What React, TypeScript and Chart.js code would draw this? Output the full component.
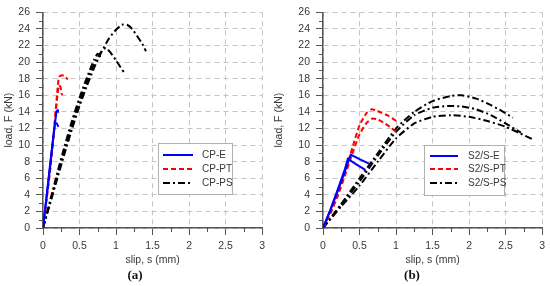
import React, { useEffect, useRef } from "react";
import { Chart, registerables } from "chart.js";
Chart.register(...registerables);

// ---------- axes ----------
const xMin = 0, xMax = 3, xStep = 0.5, xMinorStep = 0.25;
const yMin = 0, yMax = 26, yStep = 2, yMinorStep = 1;
const xTitle = "slip, s (mm)";
const yTitle = "load, F (kN)";

// ---------- panel (a) ----------
const cpE1Slip = [0, 0.05, 0.1, 0.15, 0.185, 0.2, 0.205];
const cpE1Load = [0, 3.9, 7.9, 11.6, 14.1, 14.2, 13.9];
const cpE2Slip = [0, 0.05, 0.1, 0.14, 0.165, 0.19, 0.21];
const cpE2Load = [0, 3.8, 7.6, 10.9, 12.7, 12.6, 12.2];

const cpPT1Slip = [0, 0.05, 0.1, 0.16, 0.2, 0.22, 0.26, 0.3, 0.34];
const cpPT1Load = [0, 3.6, 7.3, 12.8, 16.9, 18.2, 18.4, 18.3, 17.9];
const cpPT2Slip = [0, 0.05, 0.1, 0.16, 0.2, 0.22, 0.24, 0.26];
const cpPT2Load = [0, 3.5, 7.1, 12.5, 16.2, 17.2, 17.0, 16.0];

const cpPS1Slip = [0, 0.1, 0.2, 0.3, 0.4, 0.5, 0.6, 0.7, 0.75, 0.79];
const cpPS1Load = [0, 3.4, 6.8, 10.0, 13.0, 15.7, 18.1, 20.3, 21.0, 20.6];
const cpPS2Slip = [0, 0.1, 0.2, 0.3, 0.4, 0.5, 0.6, 0.7, 0.8, 0.86, 0.92, 1.0, 1.06, 1.12];
const cpPS2Load = [0, 3.2, 6.4, 9.6, 12.5, 15.2, 17.6, 19.8, 21.3, 21.7, 21.2, 20.2, 19.4, 18.6];
const cpPS3Slip = [0, 0.1, 0.2, 0.3, 0.4, 0.5, 0.6, 0.7, 0.8, 0.9, 1.0, 1.08, 1.15, 1.22, 1.3, 1.36, 1.41];
const cpPS3Load = [0, 3.0, 6.1, 9.1, 12.0, 14.7, 17.1, 19.3, 21.2, 22.8, 23.9, 24.5, 24.5, 24.0, 23.0, 22.2, 21.3];

// ---------- panel (b) ----------
const sE1Slip = [0, 0.1, 0.2, 0.3, 0.34, 0.45, 0.58];
const sE1Load = [0, 2.2, 4.6, 7.1, 8.35, 7.7, 7.0];
const sE2Slip = [0, 0.1, 0.2, 0.3, 0.38, 0.5, 0.63];
const sE2Load = [0, 2.1, 4.4, 6.8, 8.85, 8.3, 7.75];

const sPT1Slip = [0, 0.1, 0.2, 0.3, 0.4, 0.5, 0.6, 0.66, 0.72, 0.8, 0.9, 1.02];
const sPT1Load = [0, 1.9, 4.1, 6.7, 9.6, 12.4, 13.9, 14.3, 14.2, 13.9, 13.5, 12.8];
const sPT2Slip = [0, 0.1, 0.2, 0.3, 0.4, 0.5, 0.6, 0.68, 0.75, 0.85, 0.93, 1.0];
const sPT2Load = [0, 1.7, 3.8, 6.3, 8.9, 11.3, 12.7, 13.2, 13.1, 12.6, 12.1, 11.6];

const sPS1Slip = [0, 0.25, 0.5, 0.75, 1.0, 1.25, 1.5, 1.75, 1.9, 2.1, 2.3, 2.45, 2.6];
const sPS1Load = [0, 2.9, 6.0, 9.0, 12.0, 14.0, 15.3, 15.9, 16.0, 15.6, 14.8, 14.1, 13.3];
const sPS2Slip = [0, 0.25, 0.5, 0.75, 1.0, 1.25, 1.5, 1.7, 1.9, 2.1, 2.3, 2.5, 2.71];
const sPS2Load = [0, 2.8, 5.6, 8.7, 11.6, 13.6, 14.5, 14.7, 14.65, 14.3, 13.6, 12.6, 11.5];
const sPS3Slip = [0, 0.25, 0.5, 0.75, 1.0, 1.25, 1.5, 1.75, 2.0, 2.25, 2.5, 2.7, 2.87];
const sPS3Load = [0, 2.6, 5.1, 8.0, 10.8, 12.6, 13.4, 13.6, 13.4, 12.9, 12.2, 11.4, 10.7];

const legendA = ["CP-E", "CP-PT", "CP-PS"];
const legendB = ["S2/S-E", "S2/S-PT", "S2/S-PS"];

type Kind = "E" | "PT" | "PS";
const STYLES: Record<Kind, { color: string; dash: number[]; tension: number }> = {
  E: { color: "#0000ff", dash: [], tension: 0 },
  PT: { color: "#ff0000", dash: [5, 3], tension: 0.15 },
  PS: { color: "#000000", dash: [7, 3, 2, 3], tension: 0.2 },
};

const seriesA: { kind: Kind; slip: number[]; load: number[] }[] = [
  { kind: "E", slip: cpE1Slip, load: cpE1Load },
  { kind: "E", slip: cpE2Slip, load: cpE2Load },
  { kind: "PT", slip: cpPT1Slip, load: cpPT1Load },
  { kind: "PT", slip: cpPT2Slip, load: cpPT2Load },
  { kind: "PS", slip: cpPS1Slip, load: cpPS1Load },
  { kind: "PS", slip: cpPS2Slip, load: cpPS2Load },
  { kind: "PS", slip: cpPS3Slip, load: cpPS3Load },
];
const seriesB: { kind: Kind; slip: number[]; load: number[] }[] = [
  { kind: "E", slip: sE1Slip, load: sE1Load },
  { kind: "E", slip: sE2Slip, load: sE2Load },
  { kind: "PT", slip: sPT1Slip, load: sPT1Load },
  { kind: "PT", slip: sPT2Slip, load: sPT2Load },
  { kind: "PS", slip: sPS1Slip, load: sPS1Load },
  { kind: "PS", slip: sPS2Slip, load: sPS2Load },
  { kind: "PS", slip: sPS3Slip, load: sPS3Load },
];

const FONT = "'Liberation Sans', Arial, sans-serif";
const AXIS = "#555555";
const GRID = "#c4c4c4";
const TEXT = "#383838";

interface PanelCfg {
  width: number;
  yAxisWidth: number;
  padRight: number;
  series: { kind: Kind; slip: number[]; load: number[] }[];
  legend: string[];
  legendBox: { x: number; y: number; w: number; h: number; lineX: number; lineW: number; textX: number; rows: number[] };
  caption: string;
  captionX: number;
}

function makeDecor(cfg: PanelCfg) {
  return {
    id: "decor",
    afterDraw(chart: any) {
      const ctx: CanvasRenderingContext2D = chart.ctx;
      const xs = chart.scales.x;
      const ys = chart.scales.y;
      ctx.save();
      // minor ticks
      ctx.strokeStyle = AXIS;
      ctx.lineWidth = 1;
      ctx.setLineDash([]);
      ctx.beginPath();
      for (let v = xMin + xMinorStep; v < xMax; v += xMinorStep * 2) {
        const px = Math.round(xs.getPixelForValue(v)) + 0.5;
        ctx.moveTo(px, xs.top);
        ctx.lineTo(px, xs.top + 4);
      }
      for (let v = yMin + yMinorStep; v < yMax; v += yMinorStep * 2) {
        const py = Math.round(ys.getPixelForValue(v)) + 0.5;
        ctx.moveTo(ys.right - 4, py);
        ctx.lineTo(ys.right, py);
      }
      ctx.stroke();
      // legend
      const lb = cfg.legendBox;
      ctx.fillStyle = "#ffffff";
      ctx.fillRect(lb.x, lb.y, lb.w, lb.h);
      ctx.strokeStyle = "#b0b0b0";
      ctx.lineWidth = 1;
      ctx.strokeRect(lb.x + 0.5, lb.y + 0.5, lb.w, lb.h);
      const kinds: Kind[] = ["E", "PT", "PS"];
      ctx.font = `10px ${FONT}`;
      ctx.textBaseline = "middle";
      ctx.textAlign = "left";
      kinds.forEach((k, i) => {
        const st = STYLES[k];
        ctx.strokeStyle = st.color;
        ctx.lineWidth = 2;
        ctx.setLineDash(st.dash);
        ctx.beginPath();
        ctx.moveTo(lb.lineX, lb.rows[i]);
        ctx.lineTo(lb.lineX + lb.lineW, lb.rows[i]);
        ctx.stroke();
        ctx.setLineDash([]);
        ctx.fillStyle = TEXT;
        ctx.fillText(cfg.legend[i], lb.textX, lb.rows[i]);
      });
      // caption
      ctx.font = `bold 13px 'Liberation Serif', 'Times New Roman', serif`;
      ctx.fillStyle = "#111";
      ctx.textAlign = "center";
      ctx.textBaseline = "middle";
      ctx.fillText(cfg.caption, cfg.captionX, 276);
      ctx.restore();
    },
  };
}

function Panel({ cfg }: { cfg: PanelCfg }) {
  const ref = useRef<HTMLCanvasElement>(null);
  useEffect(() => {
    if (!ref.current) return;
    const datasets = cfg.series.map((s) => ({
      data: s.slip.map((x, i) => ({ x, y: s.load[i] })),
      borderColor: STYLES[s.kind].color,
      borderDash: STYLES[s.kind].dash,
      borderWidth: 2,
      pointRadius: 0,
      showLine: true,
      fill: false,
      tension: STYLES[s.kind].tension,
    }));
    const chart = new Chart(ref.current, {
      type: "scatter",
      data: { datasets },
      plugins: [makeDecor(cfg)],
      options: {
        responsive: false,
        animation: false,
        layout: { padding: { left: 0, right: cfg.padRight, top: 7, bottom: 0 } },
        plugins: { legend: { display: false }, tooltip: { enabled: false } },
        scales: {
          x: {
            type: "linear",
            min: xMin,
            max: xMax,
            afterFit: (s: any) => {
              s.height = 58;
            },
            ticks: {
              stepSize: xStep,
              autoSkip: false,
              maxRotation: 0,
              padding: 5,
              color: TEXT,
              font: { family: FONT, size: 10.5 },
              callback: (v: any) => String(v),
            },
            grid: { color: GRID, lineWidth: 1, drawTicks: true, tickLength: 7, tickColor: AXIS, tickWidth: 1 },
            border: { display: true, color: AXIS, width: 1.5, dash: [5, 4] },
            title: {
              display: true,
              text: xTitle,
              color: TEXT,
              font: { family: FONT, size: 10.5, lineHeight: 1.2 },
              padding: { top: 0, bottom: 20 },
            },
          },
          y: {
            type: "linear",
            min: yMin,
            max: yMax,
            afterFit: (s: any) => {
              s.width = cfg.yAxisWidth;
            },
            ticks: {
              stepSize: yStep,
              autoSkip: false,
              padding: 6,
              color: TEXT,
              font: { family: FONT, size: 10.5 },
            },
            grid: { color: GRID, lineWidth: 1, drawTicks: true, tickLength: 7, tickColor: AXIS, tickWidth: 1 },
            border: { display: true, color: AXIS, width: 1.5, dash: [5, 4] },
            title: {
              display: true,
              text: yTitle,
              color: TEXT,
              font: { family: FONT, size: 10.5, lineHeight: 1.2 },
              padding: { top: 3, bottom: 0 },
            },
          },
        },
      },
    } as any);
    return () => chart.destroy();
  }, [cfg]);
  return <canvas ref={ref} width={cfg.width} height={286} style={{ display: "block" }} />;
}

const cfgA: PanelCfg = {
  width: 270,
  yAxisWidth: 43,
  padRight: 6,
  series: seriesA,
  legend: legendA,
  legendBox: { x: 158, y: 143, w: 74, h: 51, lineX: 163, lineW: 30, textX: 202, rows: [155, 169, 183] },
  caption: "(a)",
  captionX: 135,
};
const cfgB: PanelCfg = {
  width: 280,
  yAxisWidth: 53,
  padRight: 7,
  series: seriesB,
  legend: legendB,
  legendBox: { x: 154, y: 145, w: 80, h: 50, lineX: 160, lineW: 28, textX: 198, rows: [156, 169, 183] },
  caption: "(b)",
  captionX: 142,
};

export default function App() {
  return (
    <div style={{ position: "absolute", left: 0, top: 0, width: 550, height: 286, display: "flex", background: "#fff" }}>
      <Panel cfg={cfgA} />
      <Panel cfg={cfgB} />
    </div>
  );
}
